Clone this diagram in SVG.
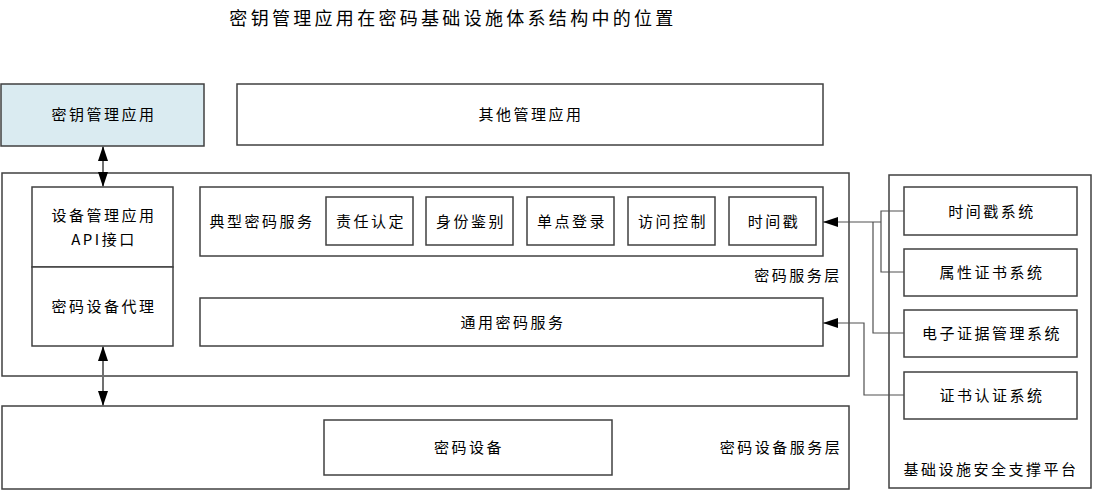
<svg xmlns="http://www.w3.org/2000/svg" width="1094" height="491" viewBox="0 0 1094 491">
<defs>
<style>
.b{fill:#fff;stroke:#404040;stroke-width:1.5}
.t{font-family:"Noto Sans CJK SC","Noto Sans",sans-serif;font-size:15px;letter-spacing:2.5px;fill:#000;text-anchor:middle}
.c{fill:none;stroke:#505050;stroke-width:1.2}
.v{stroke:#707070;stroke-width:2}
</style>
<marker id="ah" viewBox="0 0 15 10" refX="15" refY="5" markerWidth="15" markerHeight="10" markerUnits="userSpaceOnUse" orient="auto-start-reverse">
<path d="M0,0 L15,5 L0,10 Z" fill="#000"/>
</marker>
</defs>
<rect width="1094" height="491" fill="#fff"/>
<text x="453" y="25" style="font-family:'Noto Sans CJK SC',sans-serif;font-size:18px;letter-spacing:3.3px;text-anchor:middle">密钥管理应用在密码基础设施体系结构中的位置</text>

<g id="key-mgmt-app"><rect x="1" y="84" width="203" height="62" fill="#daebf1" stroke="#404040" stroke-width="1.5"/><text class="t" x="104" y="120">密钥管理应用</text></g>
<g id="other-mgmt-app"><rect class="b" x="237" y="84" width="586" height="61"/><text class="t" x="531" y="120">其他管理应用</text></g>

<g id="crypto-service-layer"><rect class="b" x="2" y="173" width="847" height="203"/><text class="t" x="798" y="281">密码服务层</text></g>
<g id="device-api"><rect class="b" x="32" y="187" width="141" height="80"/><text class="t" x="104" y="221">设备管理应用</text><text class="t" x="104" y="245">API接口</text></g>
<g id="device-agent"><rect class="b" x="32" y="267" width="141" height="79"/><text class="t" x="104" y="312">密码设备代理</text></g>
<g id="typical-services"><rect class="b" x="200" y="187" width="623" height="69"/><text class="t" x="262" y="227">典型密码服务</text></g>
<g id="accountability"><rect class="b" x="326" y="197" width="87" height="48"/><text class="t" x="371" y="227">责任认定</text></g>
<g id="identity"><rect class="b" x="426" y="197" width="87" height="48"/><text class="t" x="471" y="227">身份鉴别</text></g>
<g id="sso"><rect class="b" x="527" y="197" width="87" height="48"/><text class="t" x="572" y="227">单点登录</text></g>
<g id="access-control"><rect class="b" x="628" y="197" width="87" height="48"/><text class="t" x="673" y="227">访问控制</text></g>
<g id="timestamp"><rect class="b" x="729" y="197" width="87" height="48"/><text class="t" x="774" y="227">时间戳</text></g>
<g id="general-services"><rect class="b" x="200" y="298" width="623" height="48"/><text class="t" x="513" y="328">通用密码服务</text></g>

<g id="device-service-layer"><rect class="b" x="2" y="406" width="847" height="83"/><text class="t" x="781" y="453">密码设备服务层</text></g>
<g id="crypto-device"><rect class="b" x="324" y="420" width="288" height="55"/><text class="t" x="469" y="453">密码设备</text></g>

<g id="platform"><rect class="b" x="889" y="175" width="202" height="313"/><text class="t" x="991" y="475">基础设施安全支撑平台</text></g>
<g id="ts-system"><rect class="b" x="904" y="187" width="173" height="48"/><text class="t" x="992" y="217">时间戳系统</text></g>
<g id="attr-cert"><rect class="b" x="904" y="249" width="173" height="47"/><text class="t" x="992" y="278">属性证书系统</text></g>
<g id="evidence"><rect class="b" x="904" y="310" width="173" height="47"/><text class="t" x="992" y="339">电子证据管理系统</text></g>
<g id="ca"><rect class="b" x="904" y="372" width="173" height="47"/><text class="t" x="992" y="401">证书认证系统</text></g>

<g id="connectors">
<line class="v" x1="103" y1="146" x2="103" y2="187" marker-start="url(#ah)" marker-end="url(#ah)"/>
<line class="v" x1="103" y1="346" x2="103" y2="406" marker-start="url(#ah)" marker-end="url(#ah)"/>
<polyline class="c" points="904,211 881,211 881,272 904,272"/>
<polyline class="c" points="904,333 873,333 873,222"/>
<line class="c" x1="881" y1="222" x2="823" y2="222" marker-end="url(#ah)"/>
<polyline class="c" points="904,395 864,395 864,323 823,323" marker-end="url(#ah)"/>
</g>
</svg>
